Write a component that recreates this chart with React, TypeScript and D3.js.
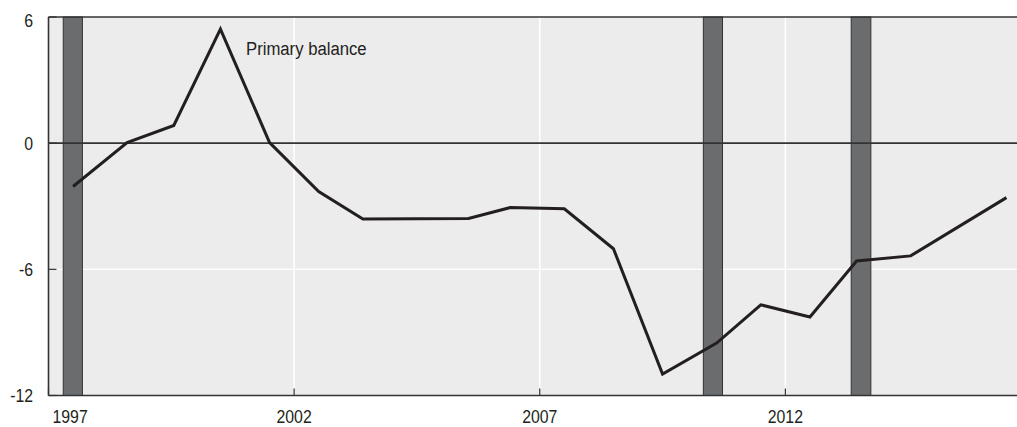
import React from "react";
import * as d3 from "d3";

// primary balance, %
const years = [
  1997.5, 1998.6, 1999.55, 2000.5, 2001.5, 2002.5, 2003.4, 2005.55, 2006.4,
  2007.5, 2008.5, 2009.5, 2010.6, 2011.5, 2012.5, 2013.45, 2014.55, 2016.5,
];
const balance = [
  -2.06, 0.03, 0.84, 5.42, 0.03, -2.3, -3.61, -3.58, -3.06, -3.12, -5.02,
  -10.98, -9.51, -7.69, -8.27, -5.6, -5.36, -2.59,
];
// shaded periods
const shadeStart = [1997.3, 2010.33, 2013.34];
const shadeEnd = [1997.69, 2010.72, 2013.74];
const yTicks = [-12, -6, 0, 6];
const xTicks = [1997, 2002, 2007, 2012];
const seriesLabel = "Primary balance";

const W = 1017;
const H = 427;
const font = "'Liberation Sans', Arial, sans-serif";
const squeeze = 0.88; // fake a condensed face

function Label({ x, y, anchor, size, children }: { x: number; y: number; anchor?: string; size: number; children: React.ReactNode }) {
  return (
    <text
      transform={`translate(${x},${y}) scale(${squeeze},1)`}
      textAnchor={anchor ?? "start"}
      fontSize={size}
      fill="#231f20"
    >
      {children}
    </text>
  );
}

export default function App() {
  const x = d3.scaleLinear().domain([1997, 2017]).range([48.5, 1031]);
  const y = d3.scaleLinear().domain([-12, 6]).range([395.5, 17]);
  const left = x(1997);
  const top = y(6);
  const bottom = y(-12);

  const line = d3
    .line<number>()
    .x((_, i) => x(years[i]))
    .y((d) => y(d));

  return (
    <svg
      width={W}
      height={H}
      style={{ position: "absolute", left: 0, top: 0, background: "#fff" }}
      fontFamily={font}
    >
      <rect x={left} y={top} width={W - left} height={bottom - top} fill="#ececec" />
      {/* grid */}
      {xTicks.slice(1).map((t) => (
        <line key={t} x1={x(t)} x2={x(t)} y1={top} y2={bottom} stroke="#fff" strokeWidth={1.5} />
      ))}
      {yTicks
        .filter((t) => t !== 0 && t !== 6 && t !== -12)
        .map((t) => (
          <line key={t} x1={left} x2={W} y1={y(t)} y2={y(t)} stroke="#fff" strokeWidth={1.2} />
        ))}
      {/* tick marks */}
      {yTicks.map((t) => (
        <line key={t} x1={left} x2={left + 8} y1={y(t)} y2={y(t)} stroke="#333" strokeWidth={1.2} />
      ))}
      {xTicks.map((t) => (
        <line key={t} x1={x(t)} x2={x(t)} y1={bottom} y2={bottom - 7} stroke="#333" strokeWidth={1.2} />
      ))}
      {/* shaded bars */}
      {shadeStart.map((s, i) => (
        <rect
          key={s}
          x={x(s)}
          y={top}
          width={x(shadeEnd[i]) - x(s)}
          height={bottom - top}
          fill="#6b6c6e"
          stroke="#333"
          strokeWidth={1}
        />
      ))}
      {/* zero line */}
      <line x1={left} x2={W} y1={y(0)} y2={y(0)} stroke="#333" strokeWidth={1.6} />
      {/* frame */}
      <line x1={left} x2={W} y1={top} y2={top} stroke="#333" strokeWidth={1.6} />
      <line x1={left} x2={W} y1={bottom} y2={bottom} stroke="#333" strokeWidth={1.6} />
      <line x1={left} x2={left} y1={top} y2={bottom} stroke="#333" strokeWidth={1.6} />
      {/* series */}
      <path d={line(balance) ?? ""} fill="none" stroke="#231f20" strokeWidth={3} strokeLinejoin="miter" />
      <Label x={246} y={55} size={19}>
        {seriesLabel}
      </Label>
      {/* axis labels */}
      {yTicks.map((t) => (
        <Label key={t} x={33} y={Math.max(y(t), 20) + 6.5} anchor="end" size={18}>
          {t}
        </Label>
      ))}
      {xTicks.map((t, i) => (
        <Label key={t} x={i === 0 ? left + 4 : x(t)} y={423} anchor={i === 0 ? "start" : "middle"} size={18}>
          {t}
        </Label>
      ))}
    </svg>
  );
}
